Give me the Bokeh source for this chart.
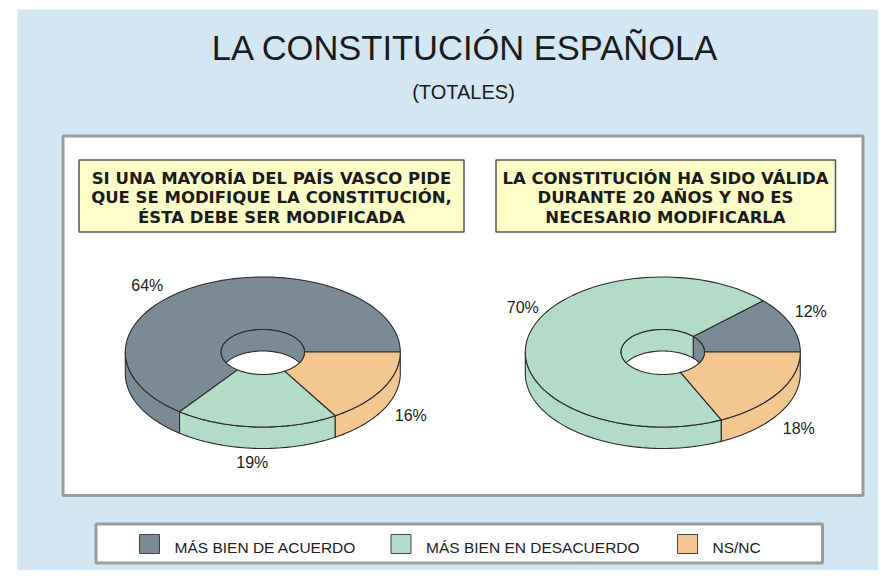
import numpy as np
from bokeh.plotting import figure
from bokeh.models import Range1d, ColumnDataSource
from bokeh.core.properties import value
from bokeh.embed import file_html
from bokeh.resources import INLINE

# ---------------- data ----------------
title = "LA CONSTITUCIÓN ESPAÑOLA"
subtitle = "(TOTALES)"
categories = ["MÁS BIEN DE ACUERDO", "MÁS BIEN EN DESACUERDO", "NS/NC"]
question_1 = ["SI UNA MAYORÍA DEL PAÍS VASCO PIDE",
              "QUE SE MODIFIQUE LA CONSTITUCIÓN,",
              "ÉSTA DEBE SER MODIFICADA"]
question_2 = ["LA CONSTITUCIÓN HA SIDO VÁLIDA",
              "DURANTE 20 AÑOS Y NO ES",
              "NECESARIO MODIFICARLA"]
values_1 = [64, 19, 16]
values_2 = [12, 70, 18]

# ---------------- style / layout ----------------
COLORS = ["#7a8b95", "#b3dcc8", "#f4c791"]
BLUE = "#d3e6f4"
YELLOW = "#fdfdc8"
OUTLINE = "#2b2b2b"
FONT = "Liberation Sans"
BOLD_FONT = "DejaVu Sans"

W, H = 878, 570
PIE_CENTERS = [(262.3, 351.5), (662.3, 351.5)]
RX, RY = 137.5, 75.0          # outer ellipse radii (px)
HX, HY = 41.7, 22.5           # hole ellipse radii (px)
DEPTH = 21.5                  # thickness of the ring (px)
# label offsets relative to pie centre (px), one per slice
LABEL_OFFSETS = [
    [(-115.5, -67), (-10.5, 110), (148, 63)],
    [(148, -41), (-140, -45), (136, 76)],
]

p = figure(width=W, height=H, x_range=Range1d(0, W), y_range=Range1d(H, 0),
           output_backend="svg", toolbar_location=None, min_border=0,
           x_axis_type=None, y_axis_type=None)
p.grid.visible = False
p.outline_line_color = None
p.background_fill_color = "white"
p.border_fill_color = "white"

# background & frames
p.quad(left=[17], right=[W + 10], top=[9], bottom=[H + 10], fill_color=BLUE, line_color=None)
p.quad(left=[62.5], right=[862.5], top=[135.5], bottom=[495], fill_color="white",
       line_color="#9c9c9c", line_width=3)
p.quad(left=[78.5, 495.5], right=[463.5, 835], top=[159.5, 159.5], bottom=[231.5, 231.5],
       fill_color=YELLOW, line_color="#555555", line_width=1.5)
p.quad(left=[95.5], right=[822], top=[523.5], bottom=[562.5], fill_color="white",
       line_color="#9c9c9c", line_width=3)

# titles
p.text(x=[465], y=[47], text=[title], text_font=value(FONT), text_font_size="34.5px",
       text_align="center", text_baseline="middle", text_color="#1b1b1b")
p.text(x=[463], y=[91.5], text=[subtitle], text_font=value(FONT), text_font_size="20px",
       text_align="center", text_baseline="middle", text_color="#1b1b1b")

# question boxes
for cx_box, lines in [(271, question_1), (665, question_2)]:
    p.text(x=[cx_box] * len(lines), y=[177.5, 197, 216.5][:len(lines)], text=lines,
           text_font=value(BOLD_FONT), text_font_style="bold", text_font_size="16.5px",
           text_align="center", text_baseline="middle", text_color="#1b1b1b")


def arc(cx, cy, rx, ry, t0, t1, n=90):
    t = np.linspace(t0, t1, n)
    return cx + rx * np.cos(t), cy - ry * np.sin(t)


def ring_pie(values, center, offsets):
    cx, cy = center
    fr = np.array(values, dtype=float) / np.sum(values)
    edges = np.concatenate([[0.0], np.cumsum(fr)]) * 2 * np.pi
    side, top, inner = ([], [], []), ([], [], []), ([], [], [])
    for i in range(len(values)):
        t0, t1 = edges[i], edges[i + 1]
        # outer side wall (front half only)
        lo, hi = max(t0, np.pi), min(t1, 2 * np.pi)
        if lo < hi:
            ox, oy = arc(cx, cy, RX, RY, lo, hi)
            side[0].append(np.concatenate([ox, ox[::-1]]))
            side[1].append(np.concatenate([oy, (oy + DEPTH)[::-1]]))
            side[2].append(COLORS[i])
        # top face
        ox, oy = arc(cx, cy, RX, RY, t0, t1)
        ix, iy = arc(cx, cy, HX, HY, t1, t0)
        top[0].append(np.concatenate([ox, ix]))
        top[1].append(np.concatenate([oy, iy]))
        top[2].append(COLORS[i])
        # inner wall of the hole (back half only)
        lo, hi = max(t0, 0.0), min(t1, np.pi)
        if lo < hi:
            t = np.linspace(lo, hi, 60)
            x = cx + HX * np.cos(t)
            ytop = cy - HY * np.sin(t)
            ylow = np.minimum(cy + DEPTH - HY * np.sin(t), cy + HY * np.sin(t))
            inner[0].append(np.concatenate([x, x[::-1]]))
            inner[1].append(np.concatenate([ytop, ylow[::-1]]))
            inner[2].append(COLORS[i])
    for xs, ys, cs in (side, top, inner):
        src = ColumnDataSource(dict(xs=[list(a) for a in xs], ys=[list(a) for a in ys], c=cs))
        p.patches("xs", "ys", source=src, fill_color="c", line_color=OUTLINE,
                  line_width=1.1, line_join="round")
    lx = [cx + dx for dx, dy in offsets]
    ly = [cy + dy for dx, dy in offsets]
    p.text(x=lx, y=ly, text=[f"{v}%" for v in values], text_font=value(FONT),
           text_font_size="16px", text_align="center", text_baseline="middle",
           text_color="#222222")


ring_pie(values_1, PIE_CENTERS[0], LABEL_OFFSETS[0])
ring_pie(values_2, PIE_CENTERS[1], LABEL_OFFSETS[1])

# legend
LEG_X = [139, 390.5, 677]
p.quad(left=LEG_X, right=[x + 20 for x in LEG_X], top=[534] * 3, bottom=[553] * 3,
       fill_color=COLORS, line_color="#444444", line_width=1)
p.text(x=[x + 35 for x in LEG_X], y=[546.5] * 3, text=categories, text_font=value(FONT),
       text_font_size="15.5px", text_align="left", text_baseline="middle",
       text_color="#222222")

open("out.html", "w").write(file_html(p, INLINE))
